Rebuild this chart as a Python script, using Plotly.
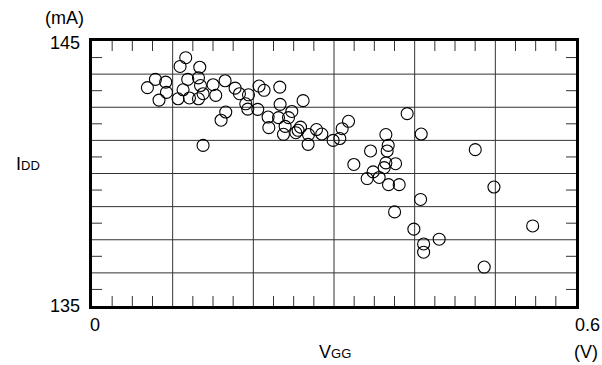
import plotly.graph_objects as go

# Data (VGG in V, IDD in mA)
vgg = [0.0687, 0.0786, 0.0914, 0.0923, 0.0831, 0.1092, 0.1162, 0.1067, 0.1129, 0.1187,
       0.1208, 0.1320, 0.1336, 0.1345, 0.1377, 0.1320, 0.1377, 0.1501, 0.1534, 0.1650,
       0.1658, 0.1600, 0.1774, 0.1828, 0.1940, 0.1906, 0.1931, 0.2071, 0.2133, 0.2055,
       0.2183, 0.2192, 0.2328, 0.2332, 0.2312, 0.2394, 0.2374, 0.2477, 0.2436, 0.2617,
       0.2585, 0.2555, 0.2527, 0.2684, 0.2679, 0.2783, 0.2849, 0.2989, 0.3072, 0.3101,
       0.3180, 0.3907, 0.3643, 0.3672, 0.3659, 0.3453, 0.4081, 0.4751, 0.3246, 0.3763,
       0.3643, 0.3622, 0.3485, 0.3411, 0.3560, 0.3676, 0.3808, 0.4983, 0.4073, 0.3751,
       0.3990, 0.4304, 0.4111, 0.4111, 0.4862, 0.5463]
idd = [143.24, 143.55, 143.45, 143.06, 142.77, 144.04, 144.37, 142.82, 143.16, 143.55,
       142.85, 143.61, 144.01, 143.32, 143.01, 142.82, 141.06, 143.35, 142.95, 143.50,
       142.32, 142.01, 143.22, 143.01, 142.97, 142.63, 142.43, 143.30, 143.14, 142.42,
       142.13, 141.73, 143.26, 142.61, 142.11, 141.78, 141.48, 142.34, 142.11, 142.75,
       141.75, 141.63, 141.54, 141.47, 141.10, 141.66, 141.49, 141.25, 141.32, 141.69,
       141.97, 142.26, 141.47, 141.06, 140.85, 140.85, 141.49, 140.90, 140.34, 140.37,
       140.40, 140.22, 140.06, 139.81, 139.85, 139.58, 139.58, 139.49, 139.02, 138.55,
       137.90, 137.52, 137.34, 137.03, 136.47, 138.02]

x_range = [0, 0.6]
y_range = [135, 145]
x_grid = [0.1, 0.2, 0.3, 0.4, 0.5]
y_grid = [136.25, 137.5, 138.75, 140.0, 141.25, 142.5, 143.75]
x_minor = [k * 0.025 for k in range(1, 24) if k % 4 != 0]
y_minor = [135 + 0.625 * (2 * k + 1) for k in range(8)]
x_labels = ["0", "0.6"]
y_labels = ["135", "145"]

FONT = "Liberation Sans, Arial, sans-serif"
W, H = 602, 365
l, r, t, b = 92, 26, 41, 59
pw, ph = W - l - r, H - t - b
TICK = 10  # px

fig = go.Figure()
fig.add_trace(go.Scatter(
    x=vgg, y=idd, mode="markers",
    marker=dict(symbol="circle-open", size=12, color="black", line=dict(width=1.1)),
    hoverinfo="skip", showlegend=False,
))

fig.update_layout(
    width=W, height=H,
    margin=dict(l=l, r=r, t=t, b=b),
    paper_bgcolor="white", plot_bgcolor="white",
    font=dict(family=FONT, size=18, color="black"),
    xaxis=dict(range=x_range, showticklabels=False, ticks="", showgrid=False, zeroline=False,
               showline=True, linecolor="black", linewidth=2.5, mirror=True),
    yaxis=dict(range=y_range, showticklabels=False, ticks="", showgrid=False, zeroline=False,
               showline=True, linecolor="black", linewidth=2.5, mirror=True),
)

GRID = dict(color="#333", width=1)
shapes = []
for gx in x_grid:
    shapes.append(dict(type="line", xref="x", yref="paper", x0=gx, x1=gx, y0=0, y1=1,
                       line=GRID, layer="below"))
for gy in y_grid:
    shapes.append(dict(type="line", xref="paper", yref="y", x0=0, x1=1, y0=gy, y1=gy,
                       line=GRID, layer="below"))
# inside minor ticks on all four sides
for mx in x_minor:
    shapes.append(dict(type="line", xref="x", yref="paper", x0=mx, x1=mx, y0=0, y1=TICK / ph,
                       line=GRID, layer="below"))
    shapes.append(dict(type="line", xref="x", yref="paper", x0=mx, x1=mx, y0=1, y1=1 - TICK / ph,
                       line=GRID, layer="below"))
for my in y_minor:
    shapes.append(dict(type="line", xref="paper", yref="y", x0=0, x1=TICK / pw, y0=my, y1=my,
                       line=GRID, layer="below"))
    shapes.append(dict(type="line", xref="paper", yref="y", x0=1, x1=1 - TICK / pw, y0=my, y1=my,
                       line=GRID, layer="below"))
fig.update_layout(shapes=shapes)

ann = [
    dict(x=82, y=43, text=y_labels[1], xanchor="right"),
    dict(x=82, y=306, text=y_labels[0], xanchor="right"),
    dict(x=64, y=18, text="(mA)", xanchor="center"),
    dict(x=28, y=164, text="I<span style='font-size:13px'>DD</span>", xanchor="center"),
    dict(x=95, y=325, text=x_labels[0], xanchor="center"),
    dict(x=587, y=325, text=x_labels[1], xanchor="center"),
    dict(x=335, y=352, text="V<span style='font-size:13px'>GG</span>", xanchor="center"),
    dict(x=586, y=352, text="(V)", xanchor="center"),
]

annotations = []
for a in ann:
    annotations.append(dict(
        x=(a["x"] - l) / pw, y=1 - (a["y"] - t) / ph, xref="paper", yref="paper",
        text=a["text"], showarrow=False, xanchor=a["xanchor"], yanchor="middle",
        font=dict(family=FONT, size=18, color="black"),
    ))
fig.update_layout(annotations=annotations)

fig.write_html("out.html")
